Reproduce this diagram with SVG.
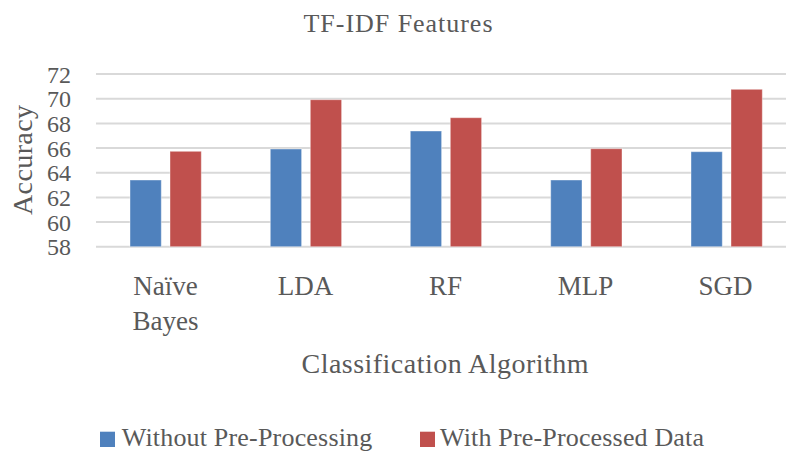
<svg xmlns="http://www.w3.org/2000/svg" width="786" height="454" viewBox="0 0 786 454">
<style>
text{font-family:"Liberation Serif","Times New Roman",serif;fill:#595959}
.grid{stroke:#d9d9d9;stroke-width:2}
.b{fill:#4f81bd;stroke:#ffffff;stroke-opacity:.4;stroke-width:1}
.r{fill:#c0504d;stroke:#ffffff;stroke-opacity:.4;stroke-width:1}
.tick{font-size:24px;text-anchor:end}
.cat{font-size:27px;text-anchor:middle}
</style>
<rect width="786" height="454" fill="#ffffff"/>
<text x="398" y="31.7" font-size="26" text-anchor="middle" textLength="189">TF-IDF Features</text>
<g id="gridlines">
<line class="grid" x1="96" y1="74" x2="786" y2="74"/>
<line class="grid" x1="96" y1="98.7" x2="786" y2="98.7"/>
<line class="grid" x1="96" y1="123.4" x2="786" y2="123.4"/>
<line class="grid" x1="96" y1="148" x2="786" y2="148"/>
<line class="grid" x1="96" y1="172.7" x2="786" y2="172.7"/>
<line class="grid" x1="96" y1="197.4" x2="786" y2="197.4"/>
<line class="grid" x1="96" y1="222" x2="786" y2="222"/>
<line class="grid" x1="96" y1="246.7" x2="786" y2="246.7"/>
</g>
<g id="y-axis">
<text class="tick" x="71" y="82.5">72</text>
<text class="tick" x="71" y="107.2">70</text>
<text class="tick" x="71" y="131.9">68</text>
<text class="tick" x="71" y="156.5">66</text>
<text class="tick" x="71" y="181.2">64</text>
<text class="tick" x="71" y="205.9">62</text>
<text class="tick" x="71" y="230.5">60</text>
<text class="tick" x="71" y="255.2">58</text>
<text transform="translate(32,160) rotate(-90)" font-size="28" text-anchor="middle" textLength="110">Accuracy</text>
</g>
<g id="bars-without">
<rect class="b" x="130" y="180" width="31.3" height="66.7"/>
<rect class="b" x="270.3" y="149" width="31.3" height="97.7"/>
<rect class="b" x="410.3" y="131" width="31.3" height="115.7"/>
<rect class="b" x="550.7" y="180" width="31.3" height="66.7"/>
<rect class="b" x="691" y="151.7" width="31.3" height="95"/>
</g>
<g id="bars-with">
<rect class="r" x="170" y="151.3" width="31.3" height="95.4"/>
<rect class="r" x="310.3" y="99.7" width="31.3" height="147"/>
<rect class="r" x="450.3" y="117.7" width="31.3" height="129"/>
<rect class="r" x="590.7" y="148.7" width="31.3" height="98"/>
<rect class="r" x="731" y="89.3" width="31.3" height="157.4"/>
</g>
<g id="x-axis">
<text class="cat" x="165.5" y="295">Naïve</text>
<text class="cat" x="165.5" y="330">Bayes</text>
<text class="cat" x="305.5" y="295">LDA</text>
<text class="cat" x="445.5" y="295">RF</text>
<text class="cat" x="585.5" y="295">MLP</text>
<text class="cat" x="725.5" y="295">SGD</text>
<text x="445" y="373" font-size="28" text-anchor="middle" textLength="287">Classification Algorithm</text>
</g>
<g id="legend">
<rect x="100" y="431.7" width="15" height="15.3" fill="#4f81bd"/>
<text x="121.7" y="446" font-size="26" textLength="250.6">Without Pre-Processing</text>
<rect x="420" y="431.7" width="15" height="15.3" fill="#c0504d"/>
<text x="440" y="446" font-size="26" textLength="264">With Pre-Processed Data</text>
</g>
</svg>
